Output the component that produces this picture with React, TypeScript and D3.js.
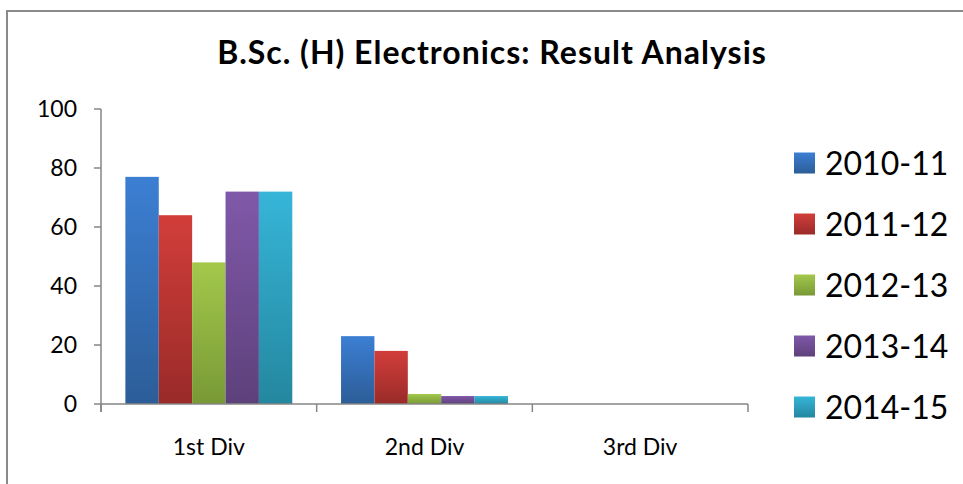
import React from "react";
import * as d3 from "d3";

const categories = ["1st Div", "2nd Div", "3rd Div"];
const seriesNames = ["2010-11", "2011-12", "2012-13", "2013-14", "2014-15"];
const v2010 = [77, 23, 0];
const v2011 = [64, 18, 0];
const v2012 = [48, 3.4, 0];
const v2013 = [72, 2.7, 0];
const v2014 = [72, 2.7, 0];
const seriesValues = [v2010, v2011, v2012, v2013, v2014];
const yTicks = [0, 20, 40, 60, 80, 100];
const title = "B.Sc. (H) Electronics: Result Analysis";

const colorsTop = ["#3c7fd3", "#d23e3a", "#a3c84b", "#8058a9", "#36b5d8"];
const colorsBottom = ["#2c5d98", "#992b29", "#789936", "#5d417b", "#24879f"];

const W = 963;
const H = 484;
const font = "Lato, 'Open Sans', sans-serif";

export default function App() {
  const x = d3.scaleBand<string>().domain(categories).range([101, 748]).paddingInner(0).paddingOuter(0);
  const xs = d3.scaleBand<string>().domain(seriesNames).range([0, x.bandwidth()]).paddingInner(0).paddingOuter(0.73);
  const y = d3.scaleLinear().domain([0, 100]).range([404, 109]);
  const axisColor = "#868686";
  const boundaries = [...categories.map((c) => x(c) as number), 748];

  return (
    <svg width={W} height={H} style={{ position: "absolute", left: 0, top: 0, background: "#fff" }}>
      <defs>
        {seriesNames.map((s, i) => (
          <linearGradient key={s} id={`g${i}`} x1="0" y1="0" x2="0" y2="1">
            <stop offset="0%" stopColor={colorsTop[i]} />
            <stop offset="100%" stopColor={colorsBottom[i]} />
          </linearGradient>
        ))}
      </defs>
      <rect x={0} y={0} width={W} height={H} fill="#fff" />
      <rect x={7} y={11} width={W + 50} height={H + 50} fill="none" stroke="#8a8a8a" strokeWidth={2} />
      <text
        x={492}
        y={64}
        textAnchor="middle"
        fontFamily={font}
        fontWeight="bold"
        fontSize={32}
        letterSpacing={1}
        fill="#000"
      >
        {title}
      </text>
      {/* bars */}
      {seriesNames.map((s, i) =>
        categories.map((c, j) => {
          const v = seriesValues[i][j];
          if (v <= 0) return null;
          const bx = (x(c) as number) + (xs(s) as number);
          return (
            <rect
              key={s + c}
              x={bx}
              y={y(v)}
              width={xs.bandwidth()}
              height={y(0) - y(v)}
              fill={`url(#g${i})`}
            />
          );
        })
      )}
      {/* y axis */}
      <line x1={101} x2={101} y1={y(100)} y2={412} stroke={axisColor} strokeWidth={1.5} />
      {yTicks.map((t) => (
        <g key={t}>
          <line x1={94} x2={101} y1={y(t)} y2={y(t)} stroke={axisColor} strokeWidth={1.5} />
          <text x={77} y={y(t)} dy="0.35em" textAnchor="end" fontFamily={font} fontSize={23} fill="#000">
            {t}
          </text>
        </g>
      ))}
      {/* x axis */}
      <line x1={101} x2={748} y1={y(0)} y2={y(0)} stroke={axisColor} strokeWidth={1.5} />
      {boundaries.map((b, i) => (
        <line key={i} x1={b} x2={b} y1={y(0)} y2={412} stroke={axisColor} strokeWidth={1.5} />
      ))}
      {categories.map((c) => (
        <text
          key={c}
          x={(x(c) as number) + x.bandwidth() / 2}
          y={455}
          textAnchor="middle"
          fontFamily={font}
          fontSize={23}
          fill="#000"
        >
          {c}
        </text>
      ))}
      {/* legend */}
      {seriesNames.map((s, i) => {
        const cy = 163 + i * 61;
        return (
          <g key={s}>
            <rect x={794} y={cy - 10.5} width={21} height={21} fill={`url(#g${i})`} />
            <text x={825} y={cy} dy="0.36em" fontFamily={font} fontSize={32} fill="#000">
              {s}
            </text>
          </g>
        );
      })}
    </svg>
  );
}
